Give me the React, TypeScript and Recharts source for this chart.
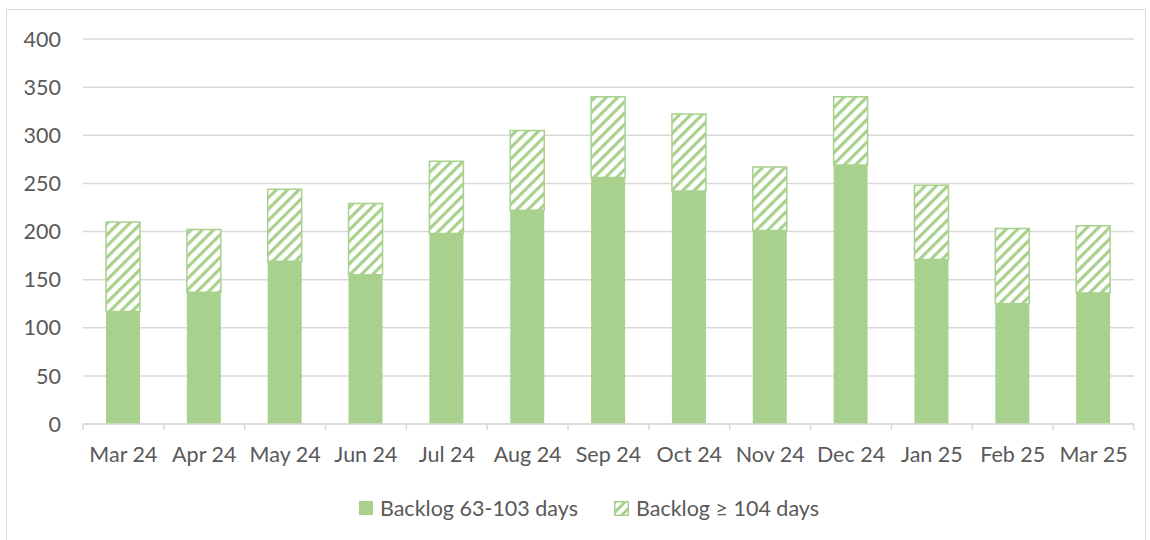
import React from 'react';
import { BarChart, Bar, XAxis, YAxis, CartesianGrid, Legend } from 'recharts';

const months = ['Mar 24', 'Apr 24', 'May 24', 'Jun 24', 'Jul 24', 'Aug 24', 'Sep 24', 'Oct 24', 'Nov 24', 'Dec 24', 'Jan 25', 'Feb 25', 'Mar 25'];
const backlog63to103 = [117, 137, 169, 155, 198, 222, 256, 242, 201, 269, 171, 125, 136];
const backlog104plus = [93, 65, 75, 74, 75, 83, 84, 80, 66, 71, 77, 78, 70];
const yTicks = [0, 50, 100, 150, 200, 250, 300, 350, 400];
const seriesNames = ['Backlog 63-103 days', 'Backlog \u2265 104 days'];

const data = months.map((m, i) => ({ month: m, a: backlog63to103[i], b: backlog104plus[i] }));

const GREEN = '#A9D18E';
const GRID = '#D9D9D9';
const TEXT = '#595959';
const FONT = 'Lato, "Open Sans", sans-serif';
const FS = 21.5;

const XTick = (props: any) => {
  const { x, y, payload, index, visibleTicksCount, width } = props;
  const step = width / visibleTicksCount;
  return (
    <g>
      <line x1={x - step / 2} x2={x - step / 2} y1={y} y2={y + 6} stroke={GRID} strokeWidth={1.5} />
      {index === visibleTicksCount - 1 && (
        <line x1={x + step / 2} x2={x + step / 2} y1={y} y2={y + 6} stroke={GRID} strokeWidth={1.5} />
      )}
      <text x={x} y={y + 38} textAnchor="middle" fill={TEXT} fontSize={FS} fontFamily={FONT}>
        {payload.value}
      </text>
    </g>
  );
};

const HatchSwatch = () => (
  <svg width={15} height={15} style={{ display: 'block' }}>
    <defs>
      <pattern id="hatchLegend" patternUnits="userSpaceOnUse" width={7} height={7} patternTransform="rotate(45)">
        <rect x={0} y={0} width={7} height={7} fill="#fff" />
        <rect x={0} y={0} width={3} height={7} fill={GREEN} />
      </pattern>
    </defs>
    <rect x={0.75} y={0.75} width={13.5} height={13.5} fill="url(#hatchLegend)" stroke={GREEN} strokeWidth={1.5} />
  </svg>
);

const renderLegend = () => (
  <div style={{ position: 'relative', height: 0 }}>
    <div style={{ position: 'absolute', top: 0, left: 14, width: 1150, display: 'flex', justifyContent: 'center', alignItems: 'center', fontFamily: FONT, fontSize: FS, color: TEXT }}>
      <div style={{ display: 'flex', alignItems: 'center', marginRight: 36 }}>
        <div style={{ width: 14, height: 14, background: GREEN, marginRight: 7 }} />
        <span>{seriesNames[0]}</span>
      </div>
      <div style={{ display: 'flex', alignItems: 'center' }}>
        <div style={{ marginRight: 7 }}><HatchSwatch /></div>
        <span>{seriesNames[1]}</span>
      </div>
    </div>
  </div>
);

export default function App() {
  return (
    <div style={{ position: 'absolute', left: 0, top: 0, width: 1150, height: 540, overflow: 'hidden', background: '#fff' }}>
      <div style={{ position: 'absolute', left: 6, top: 9, width: 1140, height: 560, border: `1.5px solid ${GRID}`, boxSizing: 'border-box' }} />
      <div style={{ position: 'absolute', left: 0, top: 0 }}>
        <BarChart width={1150} height={540} data={data} margin={{ top: 39, right: 16, bottom: 76, left: 0 }} barSize={34}>
          <defs>
            <pattern id="hatch" patternUnits="userSpaceOnUse" width={8} height={8} patternTransform="rotate(45)">
              <rect x={0} y={0} width={8} height={8} fill="#fff" />
              <rect x={0} y={0} width={3.2} height={8} fill={GREEN} />
            </pattern>
          </defs>
          <CartesianGrid vertical={false} stroke={GRID} strokeWidth={1.5} />
          <XAxis
            dataKey="month"
            height={40}
            tickLine={false}
            tickSize={0}
            tickMargin={0}
            axisLine={{ stroke: GRID, strokeWidth: 1.5 }}
            tick={<XTick />}
            interval={0}
          />
          <YAxis
            width={83}
            domain={[0, 400]}
            ticks={yTicks}
            tickLine={false}
            axisLine={false}
            tickMargin={16}
            tick={{ fill: TEXT, fontSize: FS, fontFamily: FONT }}
          />
          <Legend content={renderLegend} wrapperStyle={{ position: 'absolute', top: 495, left: 0, width: 1150, height: 0 }} />
          <Bar dataKey="a" stackId="s" fill={GREEN} isAnimationActive={false} name={seriesNames[0]} />
          <Bar dataKey="b" stackId="s" fill="url(#hatch)" stroke={GREEN} strokeWidth={1.5} isAnimationActive={false} name={seriesNames[1]} />
        </BarChart>
      </div>
    </div>
  );
}
